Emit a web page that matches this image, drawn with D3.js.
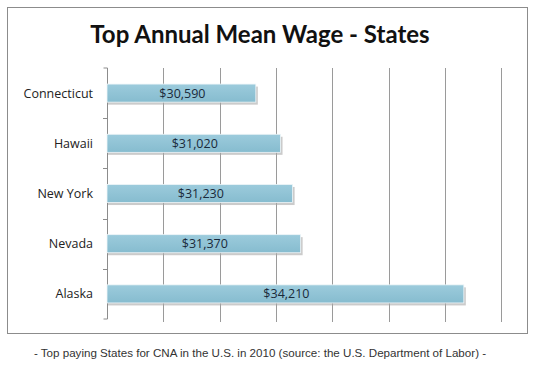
<!DOCTYPE html>
<html><head><meta charset="utf-8">
<script src="https://cdnjs.cloudflare.com/ajax/libs/d3/7.8.5/d3.min.js"></script>
<style>body{margin:0;background:#fff}</style>
</head><body><svg id="c" width="535" height="368"></svg>
<script>
const states = ["Connecticut","Hawaii","New York","Nevada","Alaska"];
const wages = [30590, 31020, 31230, 31370, 34210];
const valueLabels = ["$30,590","$31,020","$31,230","$31,370","$34,210"];
const title = "Top Annual Mean Wage - States";
const footnote = "- Top paying States for CNA in the U.S. in 2010 (source: the U.S. Department of Labor) -";
const axisMin = 28000, axisMax = 35000, gridStep = 980;

(function(){
const svg = d3.select("#c");
const defs = svg.append("defs");
const g1 = defs.append("linearGradient").attr("id","bar").attr("x1",0).attr("y1",0).attr("x2",0).attr("y2",1);
g1.append("stop").attr("offset","0%").attr("stop-color","#9ccbdc");
g1.append("stop").attr("offset","100%").attr("stop-color","#86bccf");

svg.append("rect").attr("x",7.5).attr("y",7.5).attr("width",520).attr("height",326)
  .attr("fill","#fff").attr("stroke","#8c8c8c").attr("stroke-width",1);

svg.append("text").attr("x",260).attr("y",43).attr("text-anchor","middle")
  .attr("font-family","Lato, 'Open Sans', sans-serif").attr("font-weight","bold")
  .attr("font-size",24).attr("fill","#111").text(title);

const pLeft = 107, pTop = 68, pBottom = 319;
const x = d3.scaleLinear().domain([axisMin, axisMax]).range([pLeft, pLeft + (axisMax-axisMin)*0.05746]);
const y = d3.scaleBand().domain(states).range([pTop, pBottom]).paddingInner(0.64).paddingOuter(0.32);
const yb = d3.scaleBand().domain(states).range([pTop, pBottom]);

const grid = d3.range(axisMin + gridStep, axisMax, gridStep);
svg.append("g").selectAll("line").data(grid).join("line")
  .attr("x1", d => Math.round(x(d))+0.5).attr("x2", d => Math.round(x(d))+0.5)
  .attr("y1", pTop).attr("y2", pBottom+3)
  .attr("stroke","#9a9a9a").attr("stroke-width",1);

const yAxis = d3.axisLeft(yb).tickSize(0).tickFormat("");
const ax = svg.append("g").attr("transform",`translate(${pLeft+0.5},0)`).call(yAxis);
ax.select(".domain").attr("stroke","#8c8c8c").attr("d",`M-4,${pTop}H0V${pBottom}H-4`);
svg.append("g").selectAll("line").data(states.slice(1)).join("line")
  .attr("x1", pLeft-4).attr("x2", pLeft).attr("y1", d => Math.round(yb(d))+0.5).attr("y2", d => Math.round(yb(d))+0.5)
  .attr("stroke","#8c8c8c");

svg.append("g").selectAll("text").data(states).join("text")
  .attr("x", 93).attr("y", d => yb(d) + yb.bandwidth()/2 + 4.5)
  .attr("text-anchor","end").attr("font-family","'Open Sans', sans-serif").attr("font-size",12.5)
  .attr("fill","#222").text(d => d);

const data = states.map((s,i)=>({s, v:wages[i], l:valueLabels[i]}));
svg.append("g").selectAll("rect").data(data).join("rect")
  .attr("x", pLeft+1).attr("y", d => y(d.s)+2.5)
  .attr("width", d => x(d.v)-pLeft+1).attr("height", y.bandwidth())
  .attr("fill","#a8a8a8").attr("opacity",0.6);
svg.append("g").selectAll("rect").data(data).join("rect")
  .attr("x", pLeft).attr("y", d => y(d.s))
  .attr("width", d => x(d.v)-pLeft).attr("height", y.bandwidth())
  .attr("fill","url(#bar)").attr("stroke","#eef5f8").attr("stroke-width",0.8);
svg.append("g").selectAll("text").data(data).join("text")
  .attr("x", d => (pLeft + x(d.v))/2 + 1).attr("y", d => y(d.s) + y.bandwidth()/2 + 4.5)
  .attr("text-anchor","middle").attr("font-family","'Open Sans', sans-serif").attr("font-size",12.5)
  .attr("fill","#1a2a3a").text(d => d.l);

svg.append("text").attr("x",260).attr("y",357).attr("text-anchor","middle")
  .attr("font-family","'Liberation Sans', Arial, sans-serif").attr("font-size",11.6)
  .attr("fill","#333").text(footnote);
})();
</script></body></html>
